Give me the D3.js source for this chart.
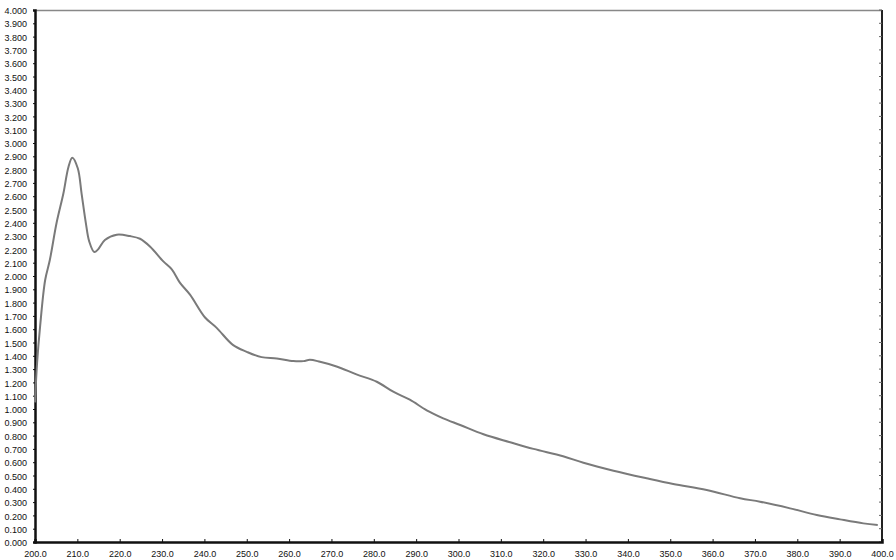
<!DOCTYPE html>
<html><head><meta charset="utf-8">
<script src="https://cdn.jsdelivr.net/npm/d3@7"></script>
<style>body{margin:0;background:#fff}svg{display:block}</style>
</head><body>
<script>
const wavelength = [200,200.5,201.2,202.4,203.5,205.1,206.7,207.9,208.8,210.1,211,212,212.8,214,214.9,216.5,219.3,222.4,224.8,227.2,230.3,232.3,234.2,236.6,240.1,242.9,246.8,250,253.5,257.1,261,263.4,264.9,267.3,271.2,275.9,280.7,284.6,288.5,292.5,296.4,300.4,305.9,312.2,317.7,324.7,329.5,336.6,344.4,350.7,358.6,366.5,371.2,378.3,384.6,390.1,395.6,399];
const absorbance = [1.05,1.35,1.62,1.97,2.12,2.40,2.62,2.82,2.89,2.81,2.62,2.40,2.26,2.18,2.20,2.27,2.31,2.30,2.28,2.22,2.11,2.05,1.95,1.86,1.69,1.61,1.48,1.43,1.39,1.38,1.36,1.36,1.37,1.355,1.32,1.26,1.205,1.13,1.07,0.99,0.93,0.88,0.81,0.75,0.70,0.645,0.596,0.536,0.479,0.436,0.391,0.329,0.303,0.253,0.203,0.17,0.14,0.128];
const xTicks = d3.range(200, 401, 10);
const yTicks = d3.range(0, 41).map(i => i / 10);

const W = 896, H = 560;
const L = 35, R = 882, T = 10, B = 542;
const svg = d3.select("body").append("svg").attr("width", W).attr("height", H);
const x = d3.scaleLinear().domain([200, 400]).range([L, R]);
const y = d3.scaleLinear().domain([0, 4]).range([B, T]);

// top and right borders
svg.append("line").attr("x1", L).attr("x2", R).attr("y1", T + 0.5).attr("y2", T + 0.5).attr("stroke", "#888").attr("stroke-width", 1.5);
svg.append("line").attr("x1", R).attr("x2", R).attr("y1", T).attr("y2", B).attr("stroke", "#222").attr("stroke-width", 2);
// right minor ticks
svg.append("g").selectAll("line").data(yTicks).join("line")
  .attr("x1", R - 3).attr("x2", R).attr("y1", d => y(d)).attr("y2", d => y(d)).attr("stroke", "#666").attr("stroke-width", 1);

// left axis
const gy = svg.append("g").attr("transform", `translate(${L},0)`)
  .call(d3.axisLeft(y).tickValues(yTicks).tickFormat(d3.format(".3f")).tickSize(2).tickPadding(6));
gy.select(".domain").attr("stroke", "#111").attr("stroke-width", 2.5);
gy.selectAll(".tick line").attr("stroke", "#111").attr("stroke-width", 1);
gy.selectAll("text").attr("font-family", "Liberation Sans, Arial, sans-serif").attr("font-size", 9).attr("fill", "#111").attr("dy", "0.4em");

// bottom axis
const gx = svg.append("g").attr("transform", `translate(0,${B})`)
  .call(d3.axisBottom(x).tickValues(xTicks).tickFormat(d3.format(".1f")).tickSize(-3).tickPadding(9));
gx.select(".domain").attr("stroke", "#111").attr("stroke-width", 2.5);
gx.selectAll(".tick line").attr("stroke", "#111").attr("stroke-width", 1);
gx.selectAll("text").attr("font-family", "Liberation Sans, Arial, sans-serif").attr("font-size", 9).attr("fill", "#111");

// curve
const data = wavelength.map((w, i) => [w, absorbance[i]]);
svg.append("path").datum(data)
  .attr("fill", "none").attr("stroke", "#7a7a7a").attr("stroke-width", 2)
  .attr("d", d3.line().x(d => x(d[0])).y(d => y(d[1])).curve(d3.curveCatmullRom));
</script>
</body></html>
